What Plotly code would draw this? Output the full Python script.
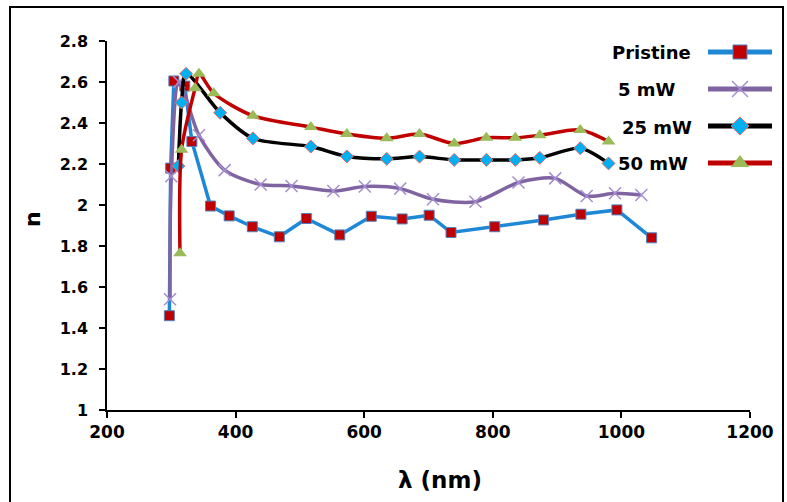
import plotly.graph_objects as go

# ---------------- data ----------------
pristine_x = [297, 299, 304, 321, 332, 361, 390, 426, 468, 510, 562, 611, 659, 701, 735, 803, 879, 937, 993, 1047]
pristine_y = [1.46, 2.18, 2.605, 2.58, 2.31, 1.995, 1.947, 1.894, 1.845, 1.934, 1.854, 1.945, 1.932, 1.95, 1.866, 1.894, 1.927, 1.955, 1.976, 1.84]

mw5_x = [298, 300, 312, 343, 383, 439, 487, 552, 601, 656, 707, 773, 840, 897, 946, 990, 1031]
mw5_y = [1.54, 2.14, 2.60, 2.34, 2.17, 2.10, 2.093, 2.068, 2.09, 2.08, 2.028, 2.016, 2.11, 2.13, 2.044, 2.057, 2.049]

mw25_x = [311, 316, 323, 376, 427, 517, 573, 635, 686, 740, 790, 835, 873, 936, 980]
mw25_y = [2.19, 2.50, 2.64, 2.45, 2.325, 2.285, 2.237, 2.225, 2.236, 2.22, 2.22, 2.22, 2.23, 2.277, 2.203]

mw50_x = [313.5, 316, 337, 343, 366, 427, 517, 573, 635, 686, 740, 790, 835, 873, 936, 980]
mw50_y = [1.765, 2.27, 2.57, 2.64, 2.545, 2.435, 2.38, 2.346, 2.325, 2.346, 2.30, 2.328, 2.328, 2.34, 2.366, 2.31]

series_names = ["Pristine", "5 mW", "25 mW", "50 mW"]

y_tick_vals = [1, 1.2, 1.4, 1.6, 1.8, 2, 2.2, 2.4, 2.6, 2.8]
y_tick_text = ["1", "1.2", "1.4", "1.6", "1.8", "2", "2.2", "2.4", "2.6", "2.8"]
x_tick_vals = [200, 400, 600, 800, 1000, 1200]
x_tick_text = ["200", "400", "600", "800", "1000", "1200"]

# ---------------- styles ----------------
FONT = "DejaVu Sans"
styles = [
    dict(line=dict(color="#1E88D6", width=3.5, shape="linear"),
         marker=dict(symbol="square", size=10, color="#C00000", line=dict(color="#4F81BD", width=1))),
    dict(line=dict(color="#8064A2", width=3.5, shape="spline", smoothing=0.8),
         marker=dict(symbol="x-thin", size=12, color="#A58FD0", line=dict(color="#A58FD0", width=1.5))),
    dict(line=dict(color="#000000", width=3.5, shape="spline", smoothing=0.8),
         marker=dict(symbol="diamond", size=10, color="#00B0F0", line=dict(color="#E46C6C", width=1))),
    dict(line=dict(color="#C00000", width=3.5, shape="spline", smoothing=0.8),
         marker=dict(symbol="triangle-up", size=12, color="#9BBB59", line=dict(width=0))),
]
series = [(pristine_x, pristine_y), (mw5_x, mw5_y), (mw25_x, mw25_y), (mw50_x, mw50_y)]

W, H = 787, 502
L, R, T, B = 107, 7, 41, 92
pw = W - L - R
ph = H - T - B


def px_x(p):
    return (p - L) / pw


def px_y(p):
    return (H - B - p) / ph


fig = go.Figure()
for (xs, ys), name, st in zip(series, series_names, styles):
    fig.add_trace(go.Scatter(x=xs, y=ys, mode="lines+markers", name=name,
                             line=st["line"], marker=st["marker"], showlegend=False,
                             xaxis="x", yaxis="y"))

# custom legend (text left of sample, as in the reference)
legend_rows = [0, 1, 2, 3]
legend_row_px = [52, 90, 127, 163]
legend_text_left_px = [610, 616, 620, 616]
for row, name, st, tx, ty in zip(legend_rows, series_names, styles, legend_text_left_px, legend_row_px):
    ln = dict(st["line"])
    ln["width"] = 5
    ln["shape"] = "linear"
    fig.add_trace(go.Scatter(x=[0, 1], y=[row, row], mode="lines", line=ln,
                             showlegend=False, xaxis="x2", yaxis="y2", hoverinfo="skip"))
    mk = dict(st["marker"])
    mk["size"] = mk["size"] + 4
    fig.add_trace(go.Scatter(x=[0.5], y=[row], mode="markers", marker=mk,
                             showlegend=False, xaxis="x2", yaxis="y2", hoverinfo="skip"))
    fig.add_annotation(x=px_x(tx), y=px_y(ty), xref="paper", yref="paper", text=name, showarrow=False,
                       xanchor="left", yanchor="middle",
                       font=dict(family=FONT, size=18, color="black", weight="bold"))

main_right = px_x(750)

fig.update_layout(
    width=W, height=H,
    margin=dict(l=L, r=R, t=T, b=B, autoexpand=False),
    paper_bgcolor="white", plot_bgcolor="rgba(0,0,0,0)",
    font=dict(family=FONT, color="black"),
    xaxis=dict(domain=[0, main_right], range=[200, 1200], tickvals=x_tick_vals, ticktext=x_tick_text,
               showgrid=False, zeroline=False, showline=True, linecolor="black", linewidth=1.5,
               ticks="outside", ticklen=6, tickwidth=1.5, tickcolor="black", automargin=False,
               tickfont=dict(family=FONT, size=17, color="black", weight="bold")),
    yaxis=dict(domain=[0, 1], range=[1, 2.8], tickvals=y_tick_vals, ticktext=y_tick_text,
               showgrid=False, zeroline=False, showline=True, linecolor="black", linewidth=1.5,
               ticks="outside", ticklen=6, tickwidth=1.5, tickcolor="black", ticklabelstandoff=8,
               automargin=False,
               tickfont=dict(family=FONT, size=16, color="black", weight="bold")),
    xaxis2=dict(domain=[px_x(708), px_x(772)], range=[0, 1], anchor="y2", visible=False),
    yaxis2=dict(domain=[px_y(180), 1], range=[3.459, -0.297], anchor="x2", visible=False),
)

fig.add_annotation(x=px_x(440), y=px_y(480), xref="paper", yref="paper",
                   text="λ (nm)", showarrow=False, xanchor="center", yanchor="middle",
                   font=dict(family=FONT, size=23, color="black", weight="bold"))
fig.add_annotation(x=px_x(33), y=px_y(219), xref="paper", yref="paper",
                   text="n", showarrow=False, textangle=-90, xanchor="center", yanchor="middle",
                   font=dict(family=FONT, size=22, color="black", weight="bold"))

fig.add_shape(type="rect", xref="paper", yref="paper",
              x0=px_x(10), x1=px_x(783), y0=px_y(512), y1=px_y(7),
              line=dict(color="black", width=2), fillcolor="rgba(0,0,0,0)", layer="below")

fig.write_html("out.html")
